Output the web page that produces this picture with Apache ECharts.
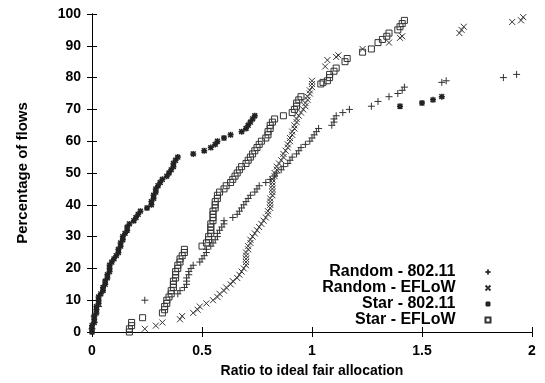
<!DOCTYPE html>
<html>
<head>
<meta charset="utf-8">
<script src="https://cdn.jsdelivr.net/npm/echarts@6/dist/echarts.min.js"></script>
<style>
  html, body { margin: 0; padding: 0; background: #fff; }
  #chart { width: 545px; height: 383px; }
</style>
</head>
<body>
<div id="chart"></div>
<script>
// tick labels
var xTicks = [0, 0.5, 1, 1.5, 2];
var yTicks = [0, 10, 20, 30, 40, 50, 60, 70, 80, 90, 100];

// [ratio, percentage]
var random80211 = [
  [0.00,1],[0.01,3],[0.01,5],[0.03,8],[0.24,10],[0.39,12],[0.40,13],[0.42,14],[0.43,15],
  [0.43,16],[0.43,17],[0.44,18],[0.44,19],[0.45,20],[0.46,21],[0.49,22],[0.50,23],[0.51,24],
  [0.52,25],[0.52,26],[0.54,27],[0.55,28],[0.56,29],[0.57,30],[0.57,31],[0.58,32],[0.59,33],
  [0.60,34],[0.60,35],[0.64,36],[0.66,37],[0.67,38],[0.68,39],[0.69,40],[0.70,41],[0.71,42],
  [0.72,43],[0.74,44],[0.75,45],[0.76,46],[0.79,47],[0.81,48],[0.83,49],[0.84,50],[0.86,51],
  [0.87,52],[0.89,53],[0.90,54],[0.91,55],[0.93,56],[0.94,57],[0.95,58],[0.97,59],[0.99,60],
  [1.00,61],[1.01,62],[1.02,63],[1.03,64],[1.09,65],[1.10,66],[1.10,67],[1.11,68],[1.14,69],
  [1.17,70],[1.27,71],[1.30,72.5],[1.35,74],[1.39,75],[1.41,76],[1.42,77],[1.59,78.5],
  [1.61,79],[1.87,80],[1.93,81]
];
var randomEflow = [
  [0.24,1],[0.29,2],[0.32,3],[0.40,4],[0.41,5],[0.46,6],[0.48,7],[0.49,8],[0.52,9],[0.55,10],
  [0.57,11],[0.58,12],[0.60,13],[0.61,14],[0.63,15],[0.64,16],[0.66,17],[0.67,18],[0.68,19],
  [0.69,20],[0.70,21],[0.70,22],[0.70,23],[0.70,24],[0.70,25],[0.71,26],[0.71,27],[0.72,28],
  [0.72,29],[0.73,30],[0.74,31],[0.75,32],[0.76,33],[0.77,34],[0.78,35],[0.79,36],[0.80,37],
  [0.80,38],[0.81,39],[0.81,40],[0.81,41],[0.81,42],[0.82,43],[0.82,44],[0.82,45],[0.82,46],
  [0.82,47],[0.82,48],[0.83,49],[0.83,50],[0.84,51],[0.84,52],[0.85,53],[0.86,54],[0.87,55],
  [0.87,56],[0.88,57],[0.89,58],[0.89,59],[0.90,60],[0.90,61],[0.91,62],[0.91,63],[0.92,64],
  [0.92,65],[0.93,66],[0.93,67],[0.94,68],[0.95,69],[0.96,70],[0.97,71],[0.97,72],[0.98,73],
  [0.98,74],[0.99,75],[0.99,76],[1.00,77],[1.00,78],[1.00,79],[1.06,83.5],[1.07,85.5],
  [1.11,86.5],[1.12,87],[1.23,89],[1.35,91],[1.40,92.5],[1.41,93],[1.67,94],[1.68,95],
  [1.69,96],[1.91,97.5],[1.95,98],[1.96,99]
];
var star80211 = [
  [0.00,0],[0.00,1],[0.00,2],[0.01,3],[0.01,4],[0.01,5],[0.02,6],[0.02,7],[0.02,8],[0.03,9],
  [0.03,10],[0.03,11],[0.04,12],[0.05,13],[0.05,14],[0.06,15],[0.06,16],[0.07,17],[0.07,18],
  [0.08,19],[0.08,20],[0.08,21],[0.09,22],[0.10,23],[0.11,24],[0.12,25],[0.12,26],[0.13,27],
  [0.13,28],[0.14,29],[0.14,30],[0.15,31],[0.16,32],[0.16,33],[0.17,34],[0.19,35],[0.20,36],
  [0.21,37],[0.22,38],[0.25,39],[0.27,40],[0.27,41],[0.28,42],[0.28,43],[0.29,44],[0.29,45],
  [0.30,46],[0.31,47],[0.32,48],[0.34,49],[0.35,50],[0.36,51],[0.37,52],[0.37,53],[0.38,54],
  [0.39,55],[0.46,56],[0.51,57],[0.54,58],[0.56,59],[0.57,60],[0.60,61],[0.63,62],[0.68,63],
  [0.70,64],[0.71,65],[0.72,66],[0.73,67],[0.74,68],[1.40,71],[1.50,72],[1.55,73],[1.59,74]
];
var starEflow = [
  [0.17,0],[0.17,1],[0.18,2],[0.18,3],[0.23,4.5],[0.32,6],[0.33,7],[0.33,8],[0.34,9],[0.34,10],
  [0.35,11],[0.36,12],[0.36,13],[0.37,14],[0.37,15],[0.37,16],[0.38,17],[0.38,18],[0.38,19],
  [0.39,20],[0.39,21],[0.40,22],[0.40,23],[0.41,24],[0.42,25],[0.42,26],[0.50,27],[0.52,28],
  [0.53,29],[0.53,30],[0.54,31],[0.54,32],[0.54,33],[0.54,34],[0.55,35],[0.55,36],[0.55,37],
  [0.55,38],[0.56,39],[0.56,40],[0.56,41],[0.57,42],[0.57,43],[0.58,44],[0.60,45],[0.61,46],
  [0.63,47],[0.64,48],[0.65,49],[0.66,50],[0.67,51],[0.68,52],[0.70,53],[0.71,54],[0.72,55],
  [0.73,56],[0.74,57],[0.75,58],[0.76,59],[0.77,60],[0.79,61],[0.80,62],[0.80,63],[0.81,64],
  [0.81,65],[0.82,66],[0.83,67],[0.87,68],[0.91,69],[0.92,70],[0.93,71],[0.93,72],[0.94,73],
  [0.95,74],[1.04,78],[1.05,78.5],[1.07,79],[1.08,80],[1.08,81],[1.10,82],[1.11,83],[1.15,85],
  [1.16,86],[1.23,88],[1.27,89],[1.30,91],[1.32,92],[1.34,93],[1.35,94],[1.39,95],[1.40,96],
  [1.41,97],[1.42,98]
];

var FONT = '"Liberation Sans", Arial, sans-serif';
var PLUS = 'path://M0,5L10,5M5,0L5,10';
var CROSS = 'path://M0,0L10,10M0,10L10,0';
var STAR = 'path://M0,5L10,5M5,0L5,10M1,1L9,9M1,9L9,1';
var SQUARE = 'path://M0,0L10,0L10,10L0,10Z';

function markStyle(w, c) {
  return { color: 'none', borderColor: c || '#222', borderWidth: w, opacity: 1 };
}

var chart = echarts.init(document.getElementById('chart'));
chart.setOption({
  animation: false,
  backgroundColor: '#fff',
  grid: { left: 92, right: 13, top: 14, bottom: 50, containLabel: false },
  legend: {
    orient: 'vertical',
    right: 47,
    top: 259,
    align: 'right',
    itemWidth: 5,
    itemHeight: 5,
    itemGap: 0,
    selectedMode: false,
    textStyle: { fontFamily: FONT, fontWeight: 'bold', fontSize: 16, color: '#000',
                 lineHeight: 16, padding: [0, 25, 0, 0] },
    data: [
      { name: 'Random - 802.11', icon: PLUS },
      { name: 'Random - EFLoW', icon: CROSS },
      { name: 'Star - 802.11', icon: STAR },
      { name: 'Star - EFLoW', icon: SQUARE }
    ]
  },
  xAxis: [{
    type: 'value', min: 0, max: 2, interval: 0.5,
    name: 'Ratio to ideal fair allocation', nameLocation: 'middle', nameGap: 32,
    nameTextStyle: { fontFamily: FONT, fontWeight: 'bold', fontSize: 14, color: '#000' },
    axisLine: { show: true, lineStyle: { color: '#000', width: 1 } },
    axisTick: { show: true, inside: true, length: 5, lineStyle: { color: '#000' } },
    axisLabel: { fontFamily: FONT, fontWeight: 'bold', fontSize: 14, color: '#000', margin: 12,
                 formatter: function (v) { return xTicks.indexOf(v) >= 0 ? String(v) : ''; } },
    splitLine: { show: false }
  }, {
    type: 'value', min: 0, max: 2, interval: 0.5, position: 'top',
    axisLine: { show: true, lineStyle: { color: '#000', width: 1 } },
    axisTick: { show: true, inside: true, length: 5, lineStyle: { color: '#000' } },
    axisLabel: { show: false },
    splitLine: { show: false }
  }],
  yAxis: [{
    type: 'value', min: 0, max: 100, interval: 10,
    name: 'Percentage of flows', nameLocation: 'middle', nameGap: 62, nameRotate: 90,
    nameTextStyle: { fontFamily: FONT, fontWeight: 'bold', fontSize: 15, color: '#000' },
    axisLine: { show: true, lineStyle: { color: '#000', width: 1 } },
    axisTick: { show: true, inside: true, length: 5, lineStyle: { color: '#000' } },
    axisLabel: { fontFamily: FONT, fontWeight: 'bold', fontSize: 14, color: '#000', margin: 11,
                 formatter: function (v) { return yTicks.indexOf(v) >= 0 ? String(v) : ''; } },
    splitLine: { show: false }
  }, {
    type: 'value', min: 0, max: 100, interval: 10, position: 'right',
    axisLine: { show: true, lineStyle: { color: '#000', width: 1 } },
    axisTick: { show: true, inside: true, length: 5, lineStyle: { color: '#000' } },
    axisLabel: { show: false },
    splitLine: { show: false }
  }],
  series: [
    { name: 'Random - 802.11', type: 'scatter', data: random80211, symbol: PLUS, symbolSize: 7,
      itemStyle: markStyle(1, '#333') },
    { name: 'Random - EFLoW', type: 'scatter', data: randomEflow, symbol: CROSS, symbolSize: 6,
      itemStyle: markStyle(1, '#333') },
    { name: 'Star - 802.11', type: 'scatter', data: star80211, symbol: STAR, symbolSize: 6,
      itemStyle: markStyle(1.5, '#222') },
    { name: 'Star - EFLoW', type: 'scatter', data: starEflow, symbol: SQUARE, symbolSize: 6,
      itemStyle: markStyle(1, '#333') }
  ]
});
</script>
</body>
</html>
